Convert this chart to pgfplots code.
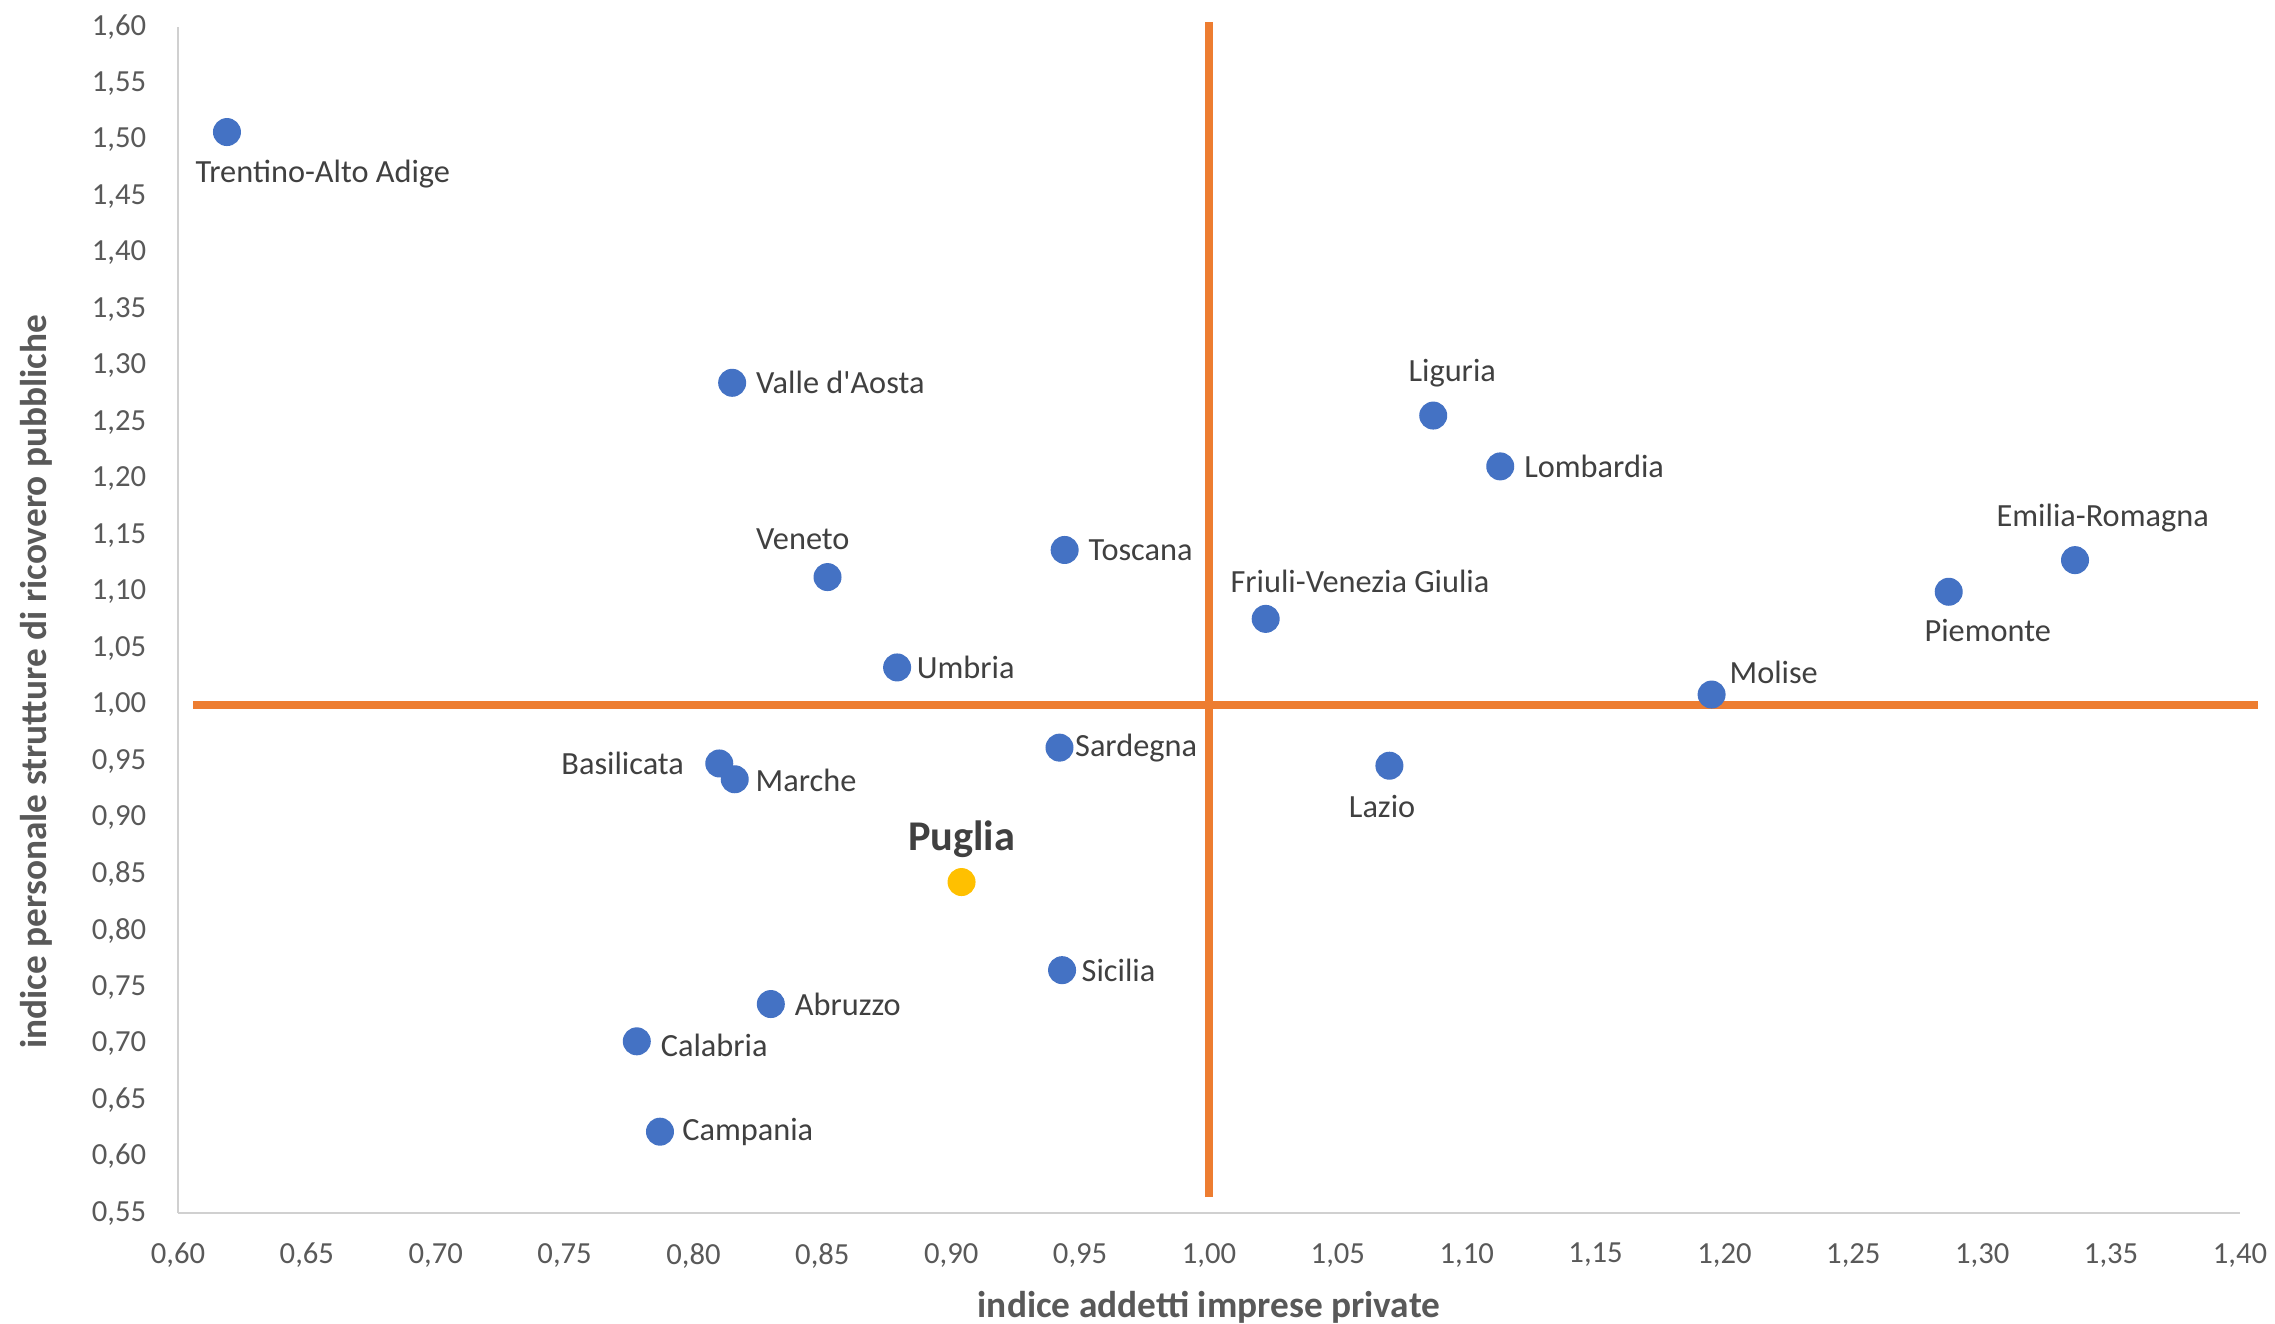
\documentclass[border=0pt]{standalone}
\usepackage{fontspec}
\setmainfont{Carlito}
\usepackage{pgfplots}
\pgfplotsset{compat=1.18}
\definecolor{cblue}{HTML}{4472C4}
\definecolor{cyellow}{HTML}{FFC000}
\definecolor{corange}{HTML}{ED7D31}
\definecolor{ctick}{HTML}{595959}
\definecolor{clabel}{HTML}{404040}
\definecolor{caxis}{HTML}{D0D0D0}

\pgfplotsset{
  regionpt/.style={only marks, mark=*, mark size=4pt,
    mark options={fill=cblue, draw=cblue},
    nodes near coords style={inner sep=0pt, font=\fontsize{9.7}{11}\selectfont, text=clabel}},
}
% x, y, label, anchor, xshift (pt), yshift (pt)
\newcommand{\region}[6]{%
  \addplot[regionpt, nodes near coords={#3},
    nodes near coords style={anchor=#4, xshift=#5pt, yshift=#6pt}]
    coordinates {(#1,#2)};}

\begin{document}
\begin{tikzpicture}
\begin{axis}[
  at={(0,0)}, anchor=south west,
  scale only axis,
  width=618.6pt, height=355.8pt,
  xmin=0.6, xmax=1.4, ymin=0.55, ymax=1.6,
  xtick distance=0.05, ytick distance=0.05,
  axis lines*=left,
  axis line style={caxis, line width=0.8pt, -},
  major tick length=0pt,
  clip=false,
  /pgf/number format/.cd, use comma, fixed, fixed zerofill, precision=2, assume math mode=true,
  /pgfplots/.cd,
  tick label style={font=\fontsize{9.2}{10}\selectfont, text=ctick},
  xticklabel style={anchor=north, yshift=-5.5pt},
  yticklabel style={anchor=east, xshift=-6pt},
  xlabel={indice addetti imprese private},
  ylabel={indice personale strutture di ricovero pubbliche},
  label style={font=\fontsize{11.2}{13}\selectfont\bfseries, text=ctick},
  xlabel style={at={(axis description cs:0.5,0)}, anchor=center, yshift=-28.3pt},
  ylabel style={at={(axis description cs:0,0.448)}, anchor=center, yshift=42.6pt},
]
\addplot[corange, line width=2.3pt, forget plot] coordinates {(1,0.564) (1,1.604)};
\addplot[corange, line width=2.3pt, forget plot] coordinates {(0.606,1) (1.407,1)};

\region{0.619}{1.507}{Trentino-Alto Adige}{west}{-9.6}{-12.5}
\region{0.815}{1.285}{Valle d\textquotesingle Aosta}{west}{7.0}{0}
\region{0.852}{1.113}{Veneto}{center}{-7.4}{11.3}
\region{0.944}{1.137}{Toscana}{west}{7.0}{0}
\region{0.879}{1.033}{Umbria}{west}{5.7}{0}
\region{0.942}{0.962}{Sardegna}{west}{4.5}{0}
\region{0.810}{0.948}{Basilicata}{east}{-10.4}{0}
\region{0.816}{0.934}{Marche}{west}{6.1}{-0.4}
\region{0.943}{0.765}{Sicilia}{west}{5.7}{0}
\region{0.830}{0.735}{Abruzzo}{west}{7.0}{0}
\region{0.778}{0.702}{Calabria}{west}{7.0}{-1.3}
\region{0.787}{0.622}{Campania}{west}{6.5}{0}
\region{1.087}{1.256}{Liguria}{center}{5.7}{12.6}
\region{1.113}{1.211}{Lombardia}{west}{7.0}{0}
\region{1.022}{1.076}{Friuli-Venezia Giulia}{center}{28.3}{11.3}
\region{1.336}{1.128}{Emilia-Romagna}{center}{8.3}{12.6}
\region{1.287}{1.100}{Piemonte}{center}{11.7}{-11.7}
\region{1.195}{1.009}{Molise}{west}{5.2}{6.5}
\region{1.070}{0.946}{Lazio}{center}{-2.2}{-12.2}

\addplot[
  only marks, mark=*, mark size=4pt,
  mark options={fill=cyellow, draw=cyellow},
  nodes near coords={Puglia},
  nodes near coords style={anchor=center, yshift=12.8pt, inner sep=0pt,
    font=\fontsize{12.7}{15}\selectfont\bfseries, text=clabel},
] coordinates {(0.904,0.843)};
\end{axis}
\pgfresetboundingbox
\path[use as bounding box] (-53.4pt,-33pt) rectangle (629.1pt,363.9pt);
\end{tikzpicture}
\end{document}
